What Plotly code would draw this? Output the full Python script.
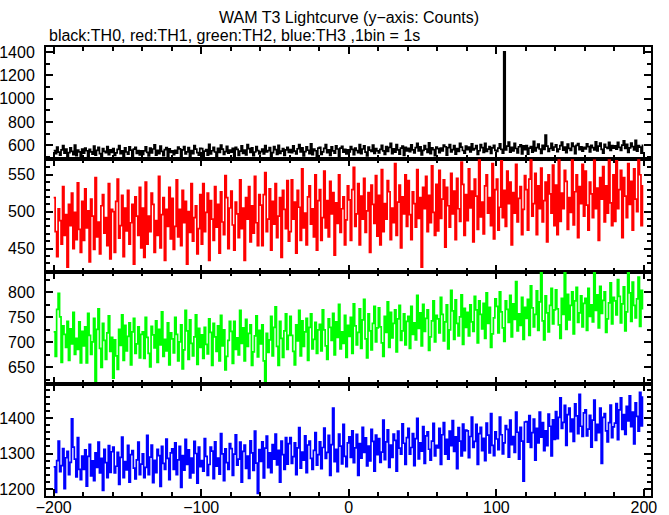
import plotly.graph_objects as go

# time bins (1 bin = 1 s)
t = list(range(-200, 200))

th0 = [
554, 527, 585, 541, 516, 561, 597, 533, 568, 499, 537, 578, 548, 520, 602, 510, 558, 544, 492, 566,
532, 576, 553, 507, 564, 543, 524, 593, 515, 556, 582, 529, 497, 572, 547, 536, 589, 519, 560, 539,
572, 513, 535, 564, 596, 527, 552, 504, 578, 542, 524, 586, 559, 495, 567, 582, 531, 555, 517, 551,
522, 551, 586, 539, 508, 575, 535, 568, 603, 515, 556, 527, 592, 547, 510, 562, 579, 500, 570, 538,
553, 519, 557, 533, 584, 569, 497, 561, 588, 526, 544, 580, 506, 554, 529, 598, 566, 537, 515, 574,
571, 497, 549, 563, 515, 607, 525, 553, 583, 542, 504, 573, 538, 602, 566, 521, 546, 590, 532, 559,
541, 573, 503, 582, 565, 513, 550, 595, 530, 559, 518, 606, 571, 538, 578, 511, 542, 589, 554, 525,
546, 567, 526, 596, 543, 554, 579, 504, 536, 589, 563, 522, 600, 531, 550, 571, 514, 560, 583, 539,
563, 536, 594, 550, 525, 570, 606, 542, 577, 508, 546, 587, 557, 529, 611, 519, 567, 553, 501, 575,
581, 522, 544, 573, 605, 536, 561, 513, 587, 551, 533, 595, 568, 504, 576, 591, 540, 564, 526, 560,
544, 588, 565, 519, 576, 555, 536, 605, 527, 568, 594, 541, 509, 584, 559, 548, 601, 531, 572, 551,
535, 564, 599, 552, 521, 588, 548, 581, 616, 528, 569, 540, 605, 560, 523, 575, 592, 513, 583, 551,
573, 546, 604, 560, 535, 580, 616, 552, 587, 518, 556, 597, 567, 539, 621, 529, 577, 563, 511, 585,
571, 537, 575, 551, 602, 587, 515, 579, 606, 544, 562, 598, 524, 572, 547, 616, 584, 555, 533, 592,
563, 584, 543, 613, 560, 571, 596, 521, 553, 606, 580, 539, 617, 548, 567, 588, 531, 577, 600, 556,
547, 576, 611, 564, 533, 1400, 560, 593, 628, 540, 581, 552, 617, 572, 535, 587, 604, 525, 595, 563,
597, 523, 575, 589, 541, 633, 551, 579, 609, 568, 530, 599, 564, 688, 592, 547, 572, 616, 558, 585,
604, 545, 567, 596, 628, 559, 584, 536, 610, 574, 556, 618, 591, 527, 599, 614, 563, 587, 549, 583,
568, 612, 589, 543, 600, 579, 560, 629, 551, 592, 618, 565, 533, 608, 583, 572, 625, 555, 596, 575,
594, 567, 625, 581, 556, 601, 637, 573, 608, 539, 577, 618, 588, 560, 642, 550, 598, 584, 532, 606,
]

th1 = [
519, 473, 439, 504, 488, 456, 534, 468, 496, 425, 510, 481, 525, 450, 499, 462, 539, 476, 445, 514,
461, 531, 478, 501, 432, 517, 494, 449, 546, 466, 486, 443, 508, 523, 471, 492, 454, 538, 436, 503,
500, 445, 514, 544, 464, 481, 522, 439, 505, 474, 529, 456, 485, 510, 429, 520, 494, 468, 533, 451,
505, 438, 540, 456, 494, 473, 525, 510, 445, 488, 468, 548, 451, 496, 519, 434, 503, 480, 533, 463,
518, 449, 480, 543, 466, 503, 454, 529, 485, 514, 429, 500, 472, 538, 460, 492, 508, 443, 477, 523,
456, 538, 473, 499, 525, 434, 515, 490, 461, 534, 479, 510, 444, 527, 486, 469, 549, 519, 450, 505,
528, 482, 448, 513, 497, 465, 543, 477, 505, 434, 519, 490, 534, 459, 508, 471, 548, 485, 454, 523,
509, 454, 523, 553, 473, 490, 531, 448, 514, 483, 538, 465, 494, 519, 438, 529, 503, 477, 542, 460,
473, 543, 490, 513, 444, 529, 506, 461, 558, 478, 498, 455, 520, 535, 483, 504, 466, 550, 448, 515,
530, 461, 492, 555, 478, 515, 466, 541, 497, 526, 441, 512, 484, 550, 472, 504, 520, 455, 489, 535,
516, 461, 530, 560, 480, 497, 538, 455, 521, 490, 545, 472, 501, 526, 445, 536, 510, 484, 549, 467,
522, 455, 557, 473, 511, 490, 542, 527, 462, 505, 485, 565, 468, 513, 536, 451, 520, 497, 550, 480,
542, 496, 462, 527, 511, 479, 557, 491, 519, 425, 533, 504, 548, 473, 522, 485, 562, 499, 468, 537,
474, 556, 491, 517, 543, 452, 533, 508, 479, 552, 497, 528, 462, 545, 504, 487, 567, 537, 468, 523,
488, 558, 505, 528, 459, 544, 521, 476, 573, 493, 513, 470, 535, 550, 498, 519, 481, 565, 463, 530,
544, 475, 506, 569, 492, 529, 480, 555, 511, 540, 455, 526, 498, 564, 486, 518, 534, 469, 503, 549,
530, 475, 544, 574, 494, 511, 552, 469, 535, 504, 559, 486, 515, 540, 459, 550, 524, 498, 563, 481,
536, 469, 571, 487, 525, 504, 556, 541, 476, 519, 499, 579, 482, 527, 550, 465, 534, 511, 564, 494,
555, 509, 475, 540, 524, 492, 570, 504, 532, 461, 546, 517, 561, 486, 535, 498, 575, 512, 481, 550,
487, 569, 504, 530, 556, 465, 546, 521, 492, 565, 510, 541, 475, 558, 517, 500, 580, 550, 481, 536,
]

th2 = [
721, 672, 766, 798, 751, 660, 733, 716, 690, 742, 664, 727, 697, 760, 676, 708, 686, 741, 659, 722,
693, 731, 659, 758, 714, 676, 701, 748, 622, 726, 767, 688, 650, 738, 704, 666, 719, 753, 682, 710,
628, 705, 673, 646, 726, 694, 755, 664, 734, 683, 712, 739, 655, 721, 748, 678, 697, 731, 669, 716,
721, 668, 750, 710, 678, 651, 732, 715, 689, 743, 660, 726, 695, 761, 672, 706, 683, 739, 655, 719,
707, 679, 750, 716, 663, 701, 735, 647, 685, 764, 723, 666, 745, 698, 673, 711, 755, 656, 728, 690,
715, 668, 730, 696, 677, 747, 720, 654, 738, 711, 682, 733, 663, 754, 693, 725, 645, 672, 704, 742,
722, 658, 742, 686, 709, 675, 764, 698, 729, 663, 746, 692, 718, 735, 654, 681, 713, 753, 671, 724,
697, 735, 663, 618, 718, 680, 705, 752, 673, 730, 771, 692, 654, 742, 708, 670, 723, 757, 686, 714,
752, 714, 682, 655, 735, 703, 764, 673, 743, 692, 721, 748, 664, 730, 757, 687, 706, 740, 678, 725,
736, 683, 765, 725, 693, 666, 747, 730, 704, 758, 675, 741, 710, 776, 687, 721, 698, 754, 670, 734,
712, 750, 678, 777, 733, 695, 720, 767, 688, 745, 786, 707, 669, 757, 723, 685, 738, 772, 701, 729,
769, 731, 699, 672, 752, 720, 781, 690, 760, 709, 738, 765, 681, 747, 774, 704, 723, 757, 695, 742,
752, 688, 772, 716, 739, 705, 794, 728, 759, 693, 776, 722, 748, 765, 684, 711, 743, 783, 701, 754,
747, 719, 790, 756, 703, 741, 775, 687, 725, 804, 763, 706, 785, 738, 713, 751, 795, 696, 768, 730,
760, 713, 775, 741, 722, 792, 765, 699, 783, 756, 727, 778, 708, 799, 738, 770, 690, 717, 749, 787,
772, 719, 801, 761, 729, 702, 783, 766, 740, 794, 711, 777, 746, 822, 723, 757, 734, 790, 706, 770,
748, 786, 714, 813, 769, 731, 756, 803, 724, 781, 845, 743, 705, 793, 759, 721, 774, 808, 737, 765,
805, 767, 735, 708, 788, 756, 843, 726, 796, 745, 774, 801, 717, 783, 810, 740, 759, 793, 731, 778,
788, 724, 808, 752, 775, 741, 846, 764, 795, 729, 812, 758, 784, 801, 720, 747, 779, 819, 737, 790,
783, 755, 826, 792, 739, 777, 811, 723, 761, 847, 799, 742, 821, 774, 749, 787, 831, 732, 804, 766,
]

th3 = [
1262, 1190, 1280, 1335, 1249, 1266, 1314, 1201, 1288, 1306, 1240, 1275, 1398, 1318, 1284, 1234, 1345, 1255, 1226, 1293,
1255, 1310, 1208, 1292, 1326, 1237, 1279, 1223, 1302, 1261, 1332, 1245, 1286, 1196, 1312, 1274, 1232, 1322, 1247, 1305,
1318, 1245, 1264, 1303, 1213, 1289, 1346, 1232, 1277, 1254, 1323, 1219, 1297, 1308, 1259, 1228, 1282, 1332, 1240, 1270,
1299, 1232, 1261, 1351, 1240, 1290, 1324, 1218, 1281, 1246, 1312, 1294, 1207, 1320, 1272, 1255, 1341, 1286, 1226, 1302,
1313, 1255, 1330, 1240, 1282, 1320, 1204, 1294, 1253, 1340, 1269, 1310, 1231, 1287, 1245, 1334, 1300, 1216, 1318, 1263,
1280, 1250, 1342, 1292, 1238, 1269, 1318, 1307, 1229, 1333, 1264, 1287, 1242, 1356, 1299, 1223, 1313, 1274, 1255, 1328,
1314, 1238, 1298, 1353, 1267, 1284, 1332, 1219, 1306, 1324, 1258, 1293, 1230, 1336, 1302, 1252, 1363, 1273, 1187, 1311,
1278, 1333, 1231, 1315, 1349, 1260, 1302, 1246, 1325, 1284, 1355, 1268, 1309, 1219, 1335, 1297, 1255, 1345, 1270, 1328,
1345, 1272, 1291, 1330, 1240, 1316, 1373, 1259, 1304, 1281, 1350, 1246, 1324, 1335, 1286, 1255, 1309, 1359, 1267, 1297,
1333, 1257, 1317, 1372, 1286, 1303, 1351, 1238, 1325, 1428, 1277, 1312, 1249, 1355, 1321, 1271, 1382, 1292, 1263, 1330,
1347, 1289, 1364, 1274, 1316, 1354, 1238, 1328, 1287, 1374, 1303, 1344, 1265, 1321, 1279, 1368, 1334, 1250, 1352, 1297,
1342, 1275, 1304, 1394, 1283, 1333, 1367, 1261, 1324, 1289, 1355, 1337, 1250, 1363, 1315, 1298, 1384, 1329, 1269, 1345,
1371, 1298, 1317, 1356, 1266, 1342, 1399, 1285, 1330, 1307, 1376, 1272, 1350, 1361, 1312, 1281, 1335, 1385, 1293, 1323,
1316, 1371, 1269, 1353, 1387, 1298, 1340, 1284, 1363, 1322, 1393, 1306, 1347, 1257, 1373, 1335, 1293, 1383, 1308, 1366,
1364, 1288, 1348, 1403, 1317, 1334, 1382, 1269, 1356, 1374, 1308, 1343, 1280, 1386, 1352, 1302, 1413, 1323, 1294, 1361,
1341, 1311, 1403, 1353, 1299, 1330, 1379, 1368, 1290, 1394, 1325, 1348, 1303, 1417, 1360, 1284, 1374, 1335, 1222, 1389,
1390, 1332, 1407, 1317, 1359, 1397, 1281, 1371, 1330, 1417, 1346, 1387, 1308, 1364, 1322, 1411, 1377, 1293, 1395, 1340,
1418, 1342, 1402, 1457, 1371, 1388, 1436, 1323, 1410, 1428, 1362, 1397, 1334, 1440, 1406, 1356, 1467, 1377, 1348, 1415,
1423, 1350, 1369, 1408, 1318, 1394, 1451, 1337, 1382, 1359, 1428, 1272, 1402, 1413, 1364, 1333, 1387, 1437, 1345, 1375,
1386, 1441, 1339, 1423, 1457, 1368, 1410, 1354, 1433, 1392, 1463, 1376, 1417, 1327, 1443, 1405, 1363, 1473, 1378, 1462,
]

series = [th0, th1, th2, th3]
colors = ["#000000", "#ff0000", "#00ff00", "#0000ff"]
names = ["TH0", "TH1", "TH2", "TH3"]
y_ranges = [[480, 1442], [419, 571], [617, 842], [1180, 1497]]
y_dticks = [200, 50, 50, 100]
y_minor = [100, 10, 25, 20]
x_range = [-205.2, 204.8]

FONT = "Liberation Sans, Arial, Helvetica, sans-serif"

fig = go.Figure()
layout = dict(
    width=669, height=515,
    margin=dict(l=46, r=18, t=47, b=19, autoexpand=False),
    paper_bgcolor="white", plot_bgcolor="white",
    showlegend=False,
    font=dict(family=FONT, size=16, color="black"),
)

for i in range(4):
    k = "" if i == 0 else str(i + 1)
    fig.add_trace(go.Scatter(
        x=t, y=series[i], mode="lines", name=names[i],
        line=dict(color=colors[i], width=1.7, shape="hv"),
        xaxis="x" + k, yaxis="y" + k,
    ))
    top = 1 - i * 0.25
    bot = top - 0.25
    layout["xaxis" + k] = dict(
        domain=[0, 1], anchor="y" + k, range=x_range, automargin=False,
        showline=True, linecolor="black", linewidth=2, mirror="ticks",
        ticks="inside", ticklen=7, tickwidth=2, tickcolor="black",
        dtick=100, tick0=0,
        minor=dict(dtick=20, ticklen=4, tickwidth=1.5, ticks="inside", tickcolor="black"),
        showgrid=False, zeroline=False,
        showticklabels=(i == 3),
        tickfont=dict(family=FONT, size=16, color="black"),
        ticklabelstandoff=-4,
    )
    if i != 0:
        layout["xaxis" + k]["matches"] = "x"
    layout["yaxis" + k] = dict(
        domain=[max(bot, 0), min(top, 1)], anchor="x" + k, range=y_ranges[i],
        automargin=False,
        showline=True, linecolor="black", linewidth=2, mirror="ticks",
        ticks="inside", ticklen=7, tickwidth=2, tickcolor="black",
        dtick=y_dticks[i], tick0=0,
        minor=dict(dtick=y_minor[i], ticklen=4, tickwidth=1.5, ticks="inside", tickcolor="black"),
        showgrid=False, zeroline=False,
        tickfont=dict(family=FONT, size=16, color="black"),
        ticklabelstandoff=6,
    )

layout["annotations"] = [
    dict(text="WAM T3 Lightcurve (y\u2212axis: Counts)", xref="paper", yref="paper",
         x=0.5, y=1 + 30 / 449, xanchor="center", yanchor="middle", showarrow=False,
         font=dict(family=FONT, size=16, color="black")),
    dict(text="black:TH0, red:TH1, green:TH2, blue:TH3 ,1bin = 1s", xref="paper", yref="paper",
         x=0.002, y=1 + 12 / 449, xanchor="left", yanchor="middle", showarrow=False,
         font=dict(family=FONT, size=16, color="black")),
]

fig.update_layout(**layout)
fig.write_html(
    "out.html",
    config={"displayModeBar": False},
    post_script="document.body.style.margin='0px';document.body.style.padding='0px';",
)
